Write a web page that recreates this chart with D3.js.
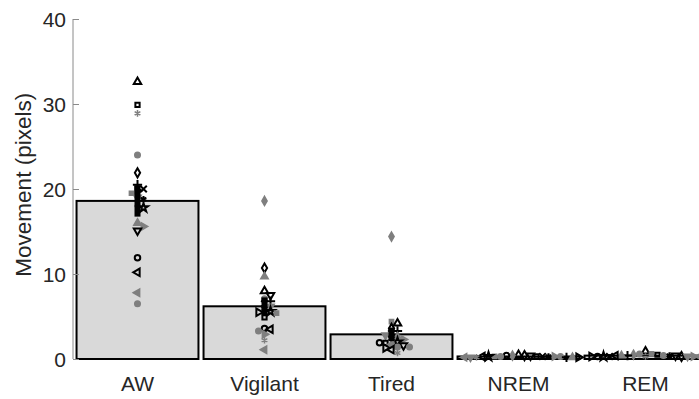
<!DOCTYPE html>
<html>
<head>
<meta charset="utf-8">
<script src="https://cdn.jsdelivr.net/npm/d3@7"></script>
<style>
  body { margin: 0; background: #fff; }
  text { font-family: "Liberation Sans", Arial, sans-serif; fill: #262626; }
</style>
</head>
<body>
<script>
var states = ["AW", "Vigilant", "Tired", "NREM", "REM"];

// bar heights and error (sem) per state
var means = [18.6, 6.2, 2.9, 0.3, 0.4];
var sems = [1.85, 1.05, 0.8, 0.04, 0.05];

// one value per animal, same animal order in every state
var awValues = [32.6, 29.9, 28.9, 24.0, 21.9, 20.5, 20.0, 19.5, 19.0, 18.8, 18.0, 17.8, 16.0, 15.6, 15.1, 11.9, 10.2, 7.8, 6.5, 19.8];
var vigilantValues = [8.0, 4.9, 2.2, 7.1, 10.7, 6.8, 6.5, 5.4, 6.2, 5.9, 18.6, 5.6, 9.7, 2.9, 7.5, 3.6, 3.5, 1.1, 3.3, 5.5];
var tiredValues = [4.2, 1.9, 0.7, 1.4, 3.6, 3.3, 3.0, 4.4, 2.8, 2.4, 14.4, 2.0, 2.6, 2.3, 1.6, 1.9, 1.1, 1.7, 1.4, 1.3];
var nremValues = [0.5, 0.3, 0.2, 0.3, 0.4, 0.2, 0.3, 0.3, 0.2, 0.3, 0.4, 0.3, 0.2, 0.3, 0.4, 0.4, 0.3, 0.2, 0.3, 0.2];
var remValues = [0.9, 0.5, 0.3, 0.4, 0.3, 0.4, 0.3, 0.6, 0.3, 0.4, 0.5, 0.3, 0.4, 0.3, 0.4, 0.3, 0.4, 0.3, 0.6, 0.3];

var yTicks = [0, 10, 20, 30, 40];

// marker per animal
var markerShapes = ["up", "square", "asterisk", "circle", "diamond", "plus", "x", "square", "down", "asterisk",
                    "diamond", "star", "up", "right", "down", "circle", "left", "left", "circle", "right"];
var markerGray = [false, false, true, true, false, false, false, true, true, false,
                  true, false, true, true, false, false, false, true, true, false];

var allValues = [awValues, vigilantValues, tiredValues, nremValues, remValues];

var width = 699,
    height = 399;

var svg = d3.select("body").append("svg")
    .attr("width", width)
    .attr("height", height);

var x = d3.scaleBand()
    .domain(states)
    .range([74, 709])
    .paddingInner(0.04)
    .paddingOuter(0.02);

var y = d3.scaleLinear()
    .domain([0, 40])
    .range([359, 19]);

// bars
svg.selectAll("rect.bar")
    .data(states)
  .enter().append("rect")
    .attr("class", "bar")
    .attr("x", function(d) { return x(d); })
    .attr("width", x.bandwidth())
    .attr("y", function(d, i) { return y(means[i]); })
    .attr("height", function(d, i) { return y(0) - y(means[i]); })
    .attr("fill", "#d9d9d9")
    .attr("stroke", "#000")
    .attr("stroke-width", 2);

// y axis, ticks pointing inward
var yAxis = svg.append("g")
    .attr("transform", "translate(73,0)")
    .call(d3.axisRight(y).tickValues(yTicks).tickSize(6).tickFormat(""));
yAxis.selectAll("path, line").attr("stroke", "#8a8a8a");
yAxis.select(".domain").attr("d", "M0," + y(40) + "V" + y(0));

svg.selectAll("text.ytick")
    .data(yTicks)
  .enter().append("text")
    .attr("class", "ytick")
    .attr("x", 66)
    .attr("y", function(d) { return y(d); })
    .attr("dy", "0.36em")
    .attr("text-anchor", "end")
    .style("font-size", "21px")
    .text(function(d) { return d; });

svg.append("text")
    .attr("transform", "translate(31," + y(20.5) + ") rotate(-90)")
    .attr("text-anchor", "middle")
    .style("font-size", "22.5px")
    .text("Movement (pixels)");

svg.selectAll("text.xlabel")
    .data(states)
  .enter().append("text")
    .attr("class", "xlabel")
    .attr("x", function(d) { return x(d) + x.bandwidth() / 2; })
    .attr("y", 391)
    .attr("text-anchor", "middle")
    .style("font-size", "21px")
    .text(function(d) { return d; });

// simple swarm: push overlapping points sideways
function swarm(values, cx) {
  var pts = values.map(function(v, i) { return {v: v, i: i, py: y(v)}; });
  pts.sort(function(a, b) { return b.v - a.v; });
  var placed = [], step = 6, minDist = 4.6;
  pts.forEach(function(p) {
    for (var k = 0; k < 40; k++) {
      var off = (k % 2 ? 1 : -1) * Math.ceil(k / 2) * step;
      var ok = placed.every(function(q) {
        var dx = q.px - (cx + off), dy = q.py - p.py;
        return dx * dx + dy * dy >= minDist * minDist;
      });
      if (ok) { p.px = cx + off; break; }
    }
    placed.push(p);
  });
  return pts;
}

var symbolFor = {
  up: d3.symbolTriangle, down: d3.symbolTriangle, left: d3.symbolTriangle, right: d3.symbolTriangle,
  square: d3.symbolSquare, asterisk: d3.symbolAsterisk, circle: d3.symbolCircle,
  diamond: d3.symbolDiamond, plus: d3.symbolPlus, x: d3.symbolX, star: d3.symbolStar
};
var rotateFor = {down: 180, left: -90, right: 90};

var points = [];
states.forEach(function(s, si) {
  swarm(allValues[si], x(s) + x.bandwidth() / 2).forEach(function(p) { points.push(p); });
});

svg.selectAll("path.pt")
    .data(points)
  .enter().append("path")
    .attr("class", "pt")
    .attr("transform", function(d) {
      return "translate(" + d.px + "," + d.py + ") rotate(" + (rotateFor[markerShapes[d.i]] || 0) + ")";
    })
    .attr("d", function(d) {
      var shape = markerShapes[d.i];
      var size = shape == "asterisk" || shape == "plus" || shape == "x" ? 30 : (shape == "square" ? 18 : 24);
      return d3.symbol().type(symbolFor[shape]).size(size)();
    })
    .attr("fill", function(d) {
      var shape = markerShapes[d.i];
      if (shape == "asterisk" || shape == "plus" || shape == "x") return "none";
      return markerGray[d.i] ? "#7f7f7f" : "none";
    })
    .attr("stroke", function(d) { return markerGray[d.i] ? "#7f7f7f" : "#000"; })
    .attr("stroke-width", function(d) { return markerGray[d.i] ? 1.5 : 2; });

// error bars
svg.selectAll("line.err")
    .data(states)
  .enter().append("line")
    .attr("class", "err")
    .attr("x1", function(d) { return x(d) + x.bandwidth() / 2; })
    .attr("x2", function(d) { return x(d) + x.bandwidth() / 2; })
    .attr("y1", function(d, i) { return y(means[i] - sems[i]); })
    .attr("y2", function(d, i) { return y(means[i] + sems[i]); })
    .attr("stroke", "#000")
    .attr("stroke-width", 6);
</script>
</body>
</html>
